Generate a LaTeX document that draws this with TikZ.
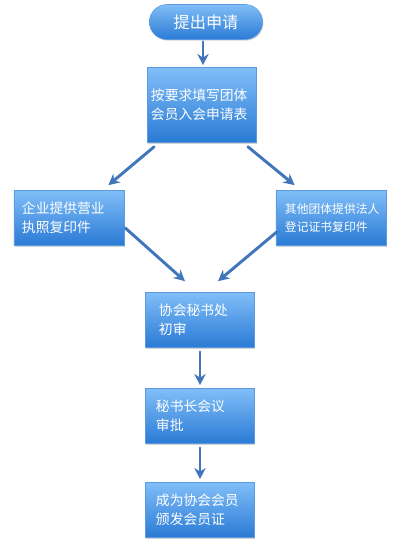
\documentclass[tikz,border=0pt]{standalone}
\usepackage{fontspec}
\newfontfamily\cjk{Noto Sans CJK SC}
\usepackage{tikz}
\usetikzlibrary{arrows.meta,calc,shadows}
\usepackage{xcolor}
\definecolor{boxtop}{HTML}{80BEF8}
\definecolor{boxbot}{HTML}{2A7AD5}
\definecolor{boxline}{HTML}{5C9BE0}
\definecolor{arrowblue}{HTML}{4177BA}

\begin{document}
\begin{tikzpicture}[x=0.025cm,y=-0.025cm,>={Stealth[length=2.8mm,width=2.8mm]},
  font=\cjk\fontsize{9.8}{13.6}\selectfont,line cap=round,
  stepbox/.style={draw=boxline,line width=0.4pt,top color=boxtop,bottom color=boxbot,
    text=white,minimum width=2.73cm,minimum height=1.375cm,text width=2.45cm,
    align=left,inner sep=0pt,drop shadow={shadow xshift=0.6pt,shadow yshift=-0.8pt,opacity=0.35}},
  startbox/.style={stepbox,rounded corners=0.44cm,minimum width=2.83cm,minimum height=0.875cm,
    text width=,align=center,font=\cjk\fontsize{11.5}{13}\selectfont},
  flow/.style={->,draw=arrowblue,line width=2.1pt}]
\useasboundingbox (0,0) rectangle (403,550);
% nodes
\node[startbox] (start) at (206,22) {提出申请};
\node[stepbox,minimum height=1.875cm,text width=2.55cm] (form) at (202,105) {按要求填写团体\\会员入会申请表};
\node[stepbox,minimum width=2.75cm,text width=2.35cm] (firm) at (69,218) {企业提供营业\\执照复印件};
\node[stepbox,minimum width=2.75cm,text width=2.3cm,font=\cjk\fontsize{8.4}{13.4}\selectfont] (other) at (331,218) {其他团体提供法人\\登记证书复印件};
\node[stepbox,text width=2.05cm] (check) at (200,320) {协会秘书处\\初审};
\node[stepbox,text width=2.2cm] (meet) at (200,416) {秘书长会议\\审批};
\node[stepbox,text width=2.2cm] (member) at (200,510) {成为协会会员\\颁发会员证};
% arrows
\draw[flow] ($(start.south)+(-3,2)$) -- ($(form.north)+(1,-2)$);
\draw[flow] ($(form.south west)+(7,4)$) -- ($(firm.north east)+(-16,-5)$);
\draw[flow] ($(form.south east)+(-9,4)$) -- ($(other.north west)+(19,-5)$);
\draw[flow] ($(firm.east)+(1,10)$) -- ($(check.north)+(-15,-11)$);
\draw[flow] ($(other.west)+(1,14)$) -- ($(check.north)+(18,-11)$);
\draw[flow] ($(check.south)+(0,4)$) -- ($(meet.north)+(0,-3)$);
\draw[flow] ($(meet.south)+(0,4)$) -- ($(member.north)+(0,-3)$);
\end{tikzpicture}
\end{document}
